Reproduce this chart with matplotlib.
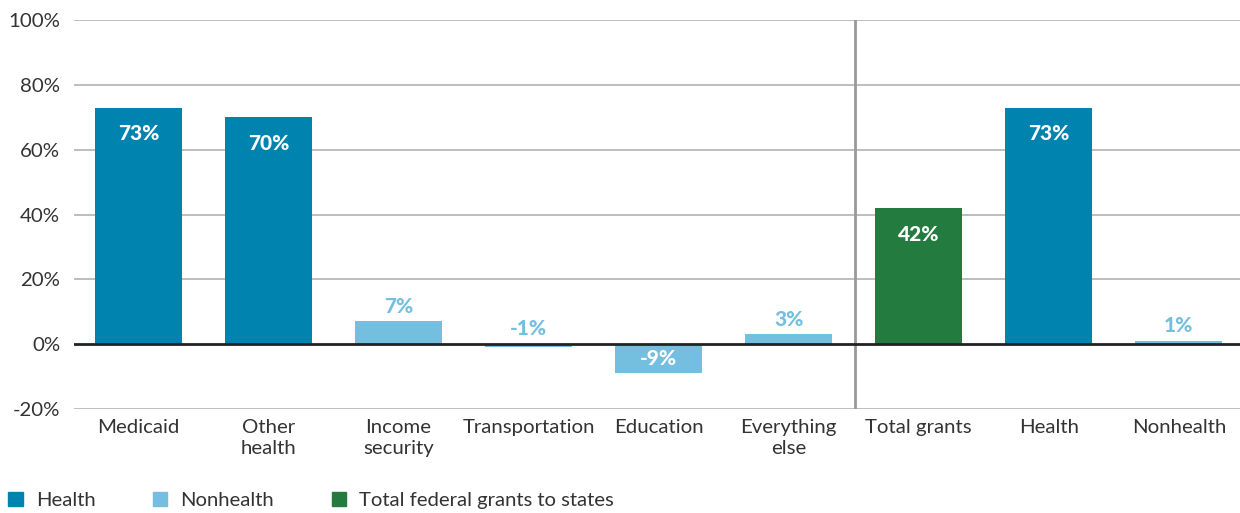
import matplotlib.pyplot as plt
from matplotlib.patches import Patch

plt.rcParams['font.family'] = ['Lato', 'DejaVu Sans']

# Change in federal grants to states, by category
categories = ['Medicaid', 'Other\nhealth', 'Income\nsecurity', 'Transportation',
              'Education', 'Everything\nelse', 'Total grants', 'Health', 'Nonhealth']
values = [73, 70, 7, -1, -9, 3, 42, 73, 1]
groups = ['health', 'health', 'nonhealth', 'nonhealth', 'nonhealth', 'nonhealth',
          'total', 'health', 'nonhealth']
y_ticks = [-20, 0, 20, 40, 60, 80, 100]
y_tick_labels = ['-20%', '0%', '20%', '40%', '60%', '80%', '100%']

colors = {'health': '#0083AE', 'nonhealth': '#74BFE0', 'total': '#237B3F'}
text_color = '#333333'

fig = plt.figure(figsize=(12.4, 5.13), dpi=100)
ax = fig.add_axes([74 / 1240, 1 - 409 / 513, 1 - 74 / 1240, 389 / 513])

x = list(range(len(categories)))
ax.bar(x, values, width=0.67, color=[colors[g] for g in groups], zorder=3)

ax.set_xlim(-0.496, 8.47)
ax.set_ylim(-20, 100)
ax.set_yticks(y_ticks)
ax.set_yticklabels(y_tick_labels)
ax.set_xticks(x)
ax.set_xticklabels(categories, linespacing=1.3)
ax.tick_params(axis='both', length=0, labelsize=14.7, labelcolor=text_color)
ax.tick_params(axis='x', pad=7)
ax.tick_params(axis='y', pad=10)

for s in ax.spines.values():
    s.set_visible(False)

# gridlines and zero line
for t in y_ticks:
    if t == 0:
        ax.axhline(0, color='#222222', lw=2, zorder=4)
    else:
        ax.axhline(t, color='#b3b3b3', lw=1.2, zorder=1)

# divider between categories and totals
ax.axvline(5.51, color='#999999', lw=2, zorder=2)

# value labels
for xi, v, g in zip(x, values, groups):
    label = f'{v}%'
    if v >= 20:
        ax.annotate(label, (xi, v), xytext=(0, -19), textcoords='offset points',
                    ha='center', va='center', color='white', fontsize=15,
                    fontweight='black', zorder=5)
    elif v <= -5:
        ax.annotate(label, (xi, v / 2), ha='center', va='center', color='white',
                    fontsize=15, fontweight='black', zorder=5)
    else:
        ax.annotate(label, (xi, max(v, 0)), xytext=(0, 11), textcoords='offset points',
                    ha='center', va='center', color=colors[g], fontsize=15,
                    fontweight='black', zorder=5)

handles = [Patch(color=colors['health'], label='Health'),
           Patch(color=colors['nonhealth'], label='Nonhealth'),
           Patch(color=colors['total'], label='Total federal grants to states')]
fig.legend(handles=handles, loc='lower left', bbox_to_anchor=(-0.008, -0.028), ncol=3,
           frameon=False, fontsize=14.6, handlelength=0.7, handleheight=0.7,
           handletextpad=0.65, columnspacing=2.85, labelcolor=text_color)

fig.savefig('out.png', dpi=100)
